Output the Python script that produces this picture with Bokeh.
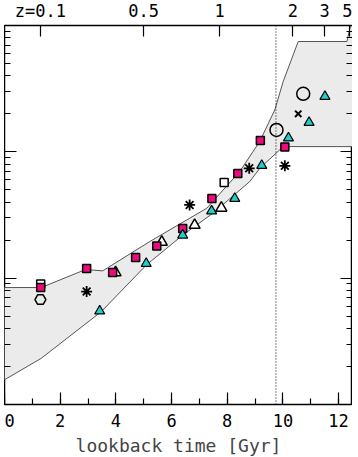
from bokeh.plotting import figure
from bokeh.models import (LinearAxis, LogAxis, FixedTicker, SingleIntervalTicker, Span, Range1d)
from bokeh.embed import file_html
from bokeh.resources import INLINE

# ---------------- data (lookback time [Gyr], SFR density) ----------------
band_upper_t = [0.0, 1.32, 2.91, 3.53, 5.22, 7.26, 8.45, 9.17, 9.71, 10.01, 10.55, 12.30, 12.42, 12.5]
band_upper_v = [0.00843, 0.00843, 0.0117, 0.01143, 0.0195, 0.0357, 0.0698, 0.121, 0.215, 0.36, 0.747, 0.747, 0.98, 1.0]
band_lower_t = [12.5, 10.01, 9.17, 8.81, 7.49, 6.41, 5.10, 3.48, 1.32, 0.0]
band_lower_v = [0.110, 0.110, 0.0741, 0.0582, 0.0327, 0.0220, 0.01274, 0.00544, 0.00232, 0.00157]

sq_mag_t = [1.30, 2.95, 3.885, 4.71, 5.47, 6.40, 7.45, 8.38, 9.19, 10.07]
sq_mag_v = [0.00843, 0.0119, 0.01107, 0.01456, 0.01795, 0.0247, 0.0427, 0.0673, 0.1228, 0.1091]

tri_cyan_t = [3.42, 5.09, 6.40, 7.44, 8.27, 9.24, 10.20, 10.94, 11.51]
tri_cyan_v = [0.00549, 0.01305, 0.0219, 0.0340, 0.0427, 0.0779, 0.1286, 0.1706, 0.274]

tri_open_t = [3.99, 5.65, 6.83, 7.79]
tri_open_v = [0.01107, 0.0193, 0.0263, 0.0359]

sq_open_t = [1.30, 7.89]
sq_open_v = [0.0090, 0.0571]

pent_t = [1.29]
pent_v = [0.00677]

ast_t = [2.95, 6.65, 8.79, 10.07]
ast_v = [0.00783, 0.0380, 0.0741, 0.0775]

x_t = [10.55]
x_v = [0.200]

circ_t = [9.77, 10.73]
circ_v = [0.149, 0.288]

z_labels = ["z=0.1", "0.5", "1", "2", "3", "5"]
z_times = [1.29, 5.0, 7.73, 10.36, 11.5, 12.4]
z_line_t = 9.75

FONT = "DejaVu Sans Mono"

p = figure(frame_width=348, frame_height=379, x_range=Range1d(0, 12.5),
           y_range=Range1d(1e-3, 1.0), y_axis_type="log",
           output_backend="svg", toolbar_location=None,
           min_border_left=0, min_border_right=0, min_border_top=0, min_border_bottom=0,
           margin=(-3, 0, -10, 4))
p.xgrid.visible = False
p.ygrid.visible = False
p.outline_line_color = "black"
p.outline_line_width = 1.5
p.background_fill_color = "white"
p.border_fill_color = "white"

decades = [1e-3, 1e-2, 1e-1, 1.0]
minors = [d * k for d in decades[:-1] for k in range(2, 10)]

def style_axis(ax, tick_in=12, minor_in=6, labels=True):
    ax.major_tick_in = tick_in
    ax.major_tick_out = 0
    ax.minor_tick_in = minor_in
    ax.minor_tick_out = 0
    ax.major_tick_line_color = "black"
    ax.minor_tick_line_color = "black"
    ax.major_tick_line_width = 1.2
    ax.minor_tick_line_width = 1.2
    ax.axis_line_color = None
    ax.major_label_text_font = FONT
    ax.major_label_text_font_size = "17px"
    ax.major_label_text_color = "black"
    ax.major_label_standoff = 3
    if not labels:
        ax.major_label_text_font_size = "1px"
        ax.major_label_text_alpha = 0
        ax.major_label_standoff = 0

# left y axis
ly = p.yaxis[0]
ly.ticker = FixedTicker(ticks=decades, minor_ticks=minors)
style_axis(ly, 12, 6, labels=False)

ry = LogAxis(ticker=FixedTicker(ticks=decades, minor_ticks=minors))
style_axis(ry, 12, 6, labels=False)
p.add_layout(ry, "right")

bx = p.xaxis[0]
bx.ticker = SingleIntervalTicker(interval=2, num_minor_ticks=2)
style_axis(bx, 12, 6)
bx.axis_label = "lookback time [Gyr]"
bx.axis_label_text_font = FONT
bx.axis_label_text_font_size = "18px"
bx.axis_label_text_font_style = "normal"
bx.axis_label_standoff = 5
bx.major_label_standoff = 9

tx = LinearAxis(ticker=FixedTicker(ticks=z_times, minor_ticks=[]),
                major_label_overrides={t: s for t, s in zip(z_times, z_labels)})
style_axis(tx, 11, 0)
tx.major_label_standoff = 5
p.add_layout(tx, "above")

# band
p.patch(band_upper_t + band_lower_t, band_upper_v + band_lower_v,
        fill_color="#ebebeb", line_color="#555555", line_width=1)

p.add_layout(Span(location=z_line_t, dimension="height", line_color="black",
                  line_width=1, line_dash="1 2"))

p.scatter(sq_open_t, sq_open_v, marker="square", size=8, fill_color="white",
          line_color="black", line_width=1.5)
p.scatter(tri_open_t, tri_open_v, marker="triangle", size=11, fill_color="white",
          line_color="black", line_width=1.5)
p.scatter(sq_mag_t, sq_mag_v, marker="square", size=8, fill_color="#ee0a7e",
          line_color="black", line_width=1.5)
p.scatter(tri_cyan_t, tri_cyan_v, marker="triangle", size=10, fill_color="#1fcfcf",
          line_color="black", line_width=1.2)
p.scatter(pent_t, pent_v, marker="hex", size=11, fill_color=None,
          line_color="black", line_width=1.5)
p.scatter(ast_t, ast_v, marker="asterisk", size=11, line_color="black", line_width=1.8)
p.scatter(x_t, x_v, marker="x", size=9, line_color="black", line_width=2)
p.scatter(circ_t, circ_v, marker="circle", size=13, fill_color=None,
          line_color="black", line_width=1.5)

open("out.html", "w").write(file_html(p, INLINE))
